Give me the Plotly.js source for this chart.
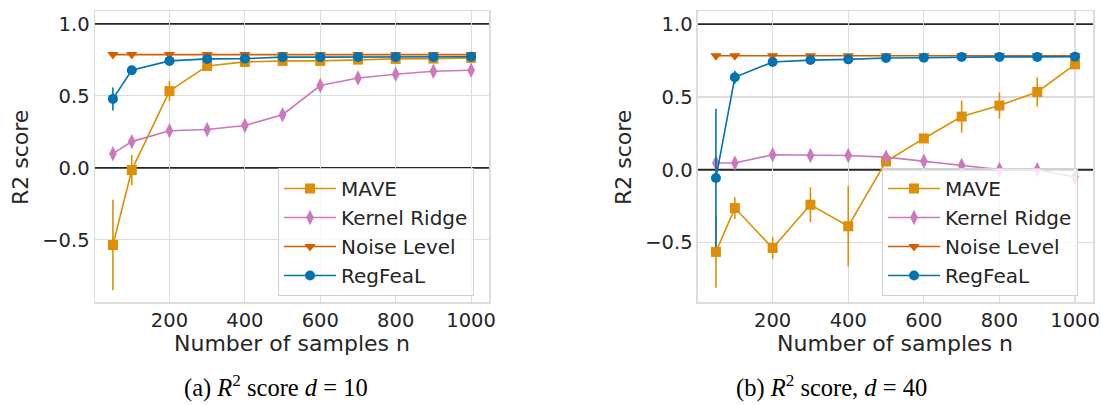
<!DOCTYPE html>
<html>
<head>
<meta charset="utf-8">
<script src="https://cdn.plot.ly/plotly-3.0.1.min.js"></script>
<style>html,body{margin:0;padding:0;background:#fff;}#chart{width:1102px;height:405px;}</style>
</head>
<body>
<div id="chart"></div>
<script>
// ---- data ----
const samples = [50, 100, 200, 300, 400, 500, 600, 700, 800, 900, 1000];
const seriesNames = ["MAVE", "Kernel Ridge", "Noise Level", "RegFeaL"];

// panel (a) d = 10
const maveA      = [-0.537, -0.016, 0.533, 0.708, 0.736, 0.743, 0.743, 0.752, 0.757, 0.759, 0.764];
const maveErrA   = [0.315, 0.105, 0.07, 0.015, 0.012, 0.01, 0.01, 0.01, 0.01, 0.01, 0.01];
const krA        = [0.098, 0.182, 0.257, 0.266, 0.294, 0.369, 0.572, 0.624, 0.650, 0.671, 0.678];
const krErrA     = [0.02, 0.02, 0.015, 0.015, 0.015, 0.015, 0.015, 0.015, 0.01, 0.01, 0.01];
const noiseA     = [0.787, 0.787, 0.787, 0.787, 0.787, 0.787, 0.787, 0.787, 0.787, 0.787, 0.787];
const noiseErrA  = [0.005, 0.005, 0.005, 0.005, 0.005, 0.005, 0.005, 0.005, 0.005, 0.005, 0.005];
const regA       = [0.479, 0.678, 0.743, 0.757, 0.759, 0.769, 0.769, 0.770, 0.771, 0.771, 0.772];
const regErrA    = [0.08, 0.015, 0.01, 0.008, 0.008, 0.006, 0.006, 0.006, 0.005, 0.005, 0.005];

// panel (b) d = 40
const maveB      = [-0.564, -0.263, -0.537, -0.240, -0.388, 0.057, 0.215, 0.365, 0.441, 0.534, 0.724];
const maveErrB   = [0.247, 0.075, 0.075, 0.12, 0.276, 0.02, 0.02, 0.11, 0.09, 0.10, 0.02];
const krB        = [0.046, 0.046, 0.103, 0.098, 0.098, 0.087, 0.059, 0.030, 0.002, 0.000, -0.050];
const krErrB     = [0.015, 0.015, 0.015, 0.015, 0.015, 0.015, 0.015, 0.015, 0.015, 0.015, 0.015];
const noiseB     = [0.783, 0.783, 0.783, 0.783, 0.783, 0.783, 0.783, 0.783, 0.783, 0.783, 0.783];
const noiseErrB  = [0.005, 0.005, 0.005, 0.005, 0.005, 0.005, 0.005, 0.005, 0.005, 0.005, 0.005];
const regB       = [-0.057, 0.635, 0.740, 0.753, 0.758, 0.767, 0.769, 0.774, 0.775, 0.775, 0.776];
const regErrB    = [0.475, 0.045, 0.01, 0.008, 0.008, 0.006, 0.006, 0.005, 0.005, 0.005, 0.005];

const xTicks = [200, 400, 600, 800, 1000];
const yTicks = [-0.5, 0.0, 0.5, 1.0];
const yGridOnly = [-0.5, 0.5];
const refLines = [0.0, 1.0];
const captions = ["(a) <i>R</i><sup>2</sup> score <i>d</i> = 10", "(b) <i>R</i><sup>2</sup> score, <i>d</i> = 40"];

// ---- styles ----
const colors  = ["#de8f05", "#cc78bc", "#d55e00", "#0173b2"];
const symbols = ["square", "diamond-tall", "triangle-down", "circle"];
const sizes   = [10, 11, 10, 10];

function makeTraces(vals, errs, xa, ya, leg) {
  return vals.map((v, i) => ({
    type: "scatter", mode: "lines+markers",
    x: samples, y: v, name: seriesNames[i],
    xaxis: xa, yaxis: ya, legend: leg,
    line: {color: colors[i], width: 1.6},
    marker: {color: colors[i], symbol: symbols[i], size: sizes[i], line: {width: 0}},
    error_y: {type: "data", array: errs[i], visible: true, color: colors[i], thickness: 1.6, width: 0}
  }));
}

const traces = [].concat(
  makeTraces([maveA, krA, noiseA, regA], [maveErrA, krErrA, noiseErrA, regErrA], "x", "y", "legend"),
  makeTraces([maveB, krB, noiseB, regB], [maveErrB, krErrB, noiseErrB, regErrB], "x2", "y2", "legend2")
);

const tickFont = {family: "DejaVu Sans", size: 19.5, color: "#262626"};
const labelFont = {family: "DejaVu Sans", size: 22, color: "#262626"};
const gridC = "#dcdcdc";

function xAxis(domain, anchor) {
  return {domain: domain, anchor: anchor, range: [2.5, 1047.5], tickvals: xTicks,
    tickfont: tickFont, showgrid: true, gridcolor: gridC, gridwidth: 1.2, zeroline: false,
    showline: true, linecolor: gridC, linewidth: 1.5, mirror: true, ticks: "", automargin: false};
}
function yAxis(range, anchor) {
  return {domain: [0, 1], anchor: anchor, range: range, tickvals: yTicks, tickformat: ".1f",
    tickfont: tickFont, showgrid: false, zeroline: false,
    minor: {tickvals: yGridOnly, showgrid: true, gridcolor: gridC, gridwidth: 1.2, ticks: ""},
    showline: true, linecolor: gridC, linewidth: 1.5, mirror: true, ticks: "", automargin: false};
}

const legendBase = {font: {family: "DejaVu Sans", size: 20, color: "#262626"},
  bgcolor: "rgba(255,255,255,0.8)", bordercolor: "#d0d0d0", borderwidth: 1,
  xanchor: "left", yanchor: "top", xref: "paper", yref: "paper", tracegroupgap: 0,
  itemwidth: 52};

const shapes = [];
[["x", "y"], ["x2", "y2"]].forEach(([xr, yr]) => {
  refLines.forEach(v => shapes.push({type: "line", xref: xr + " domain", yref: yr,
    x0: 0, x1: 1, y0: v, y1: v, line: {color: "#262626", width: 1.8}, layer: "below"}));
});

const ann = [];
function addText(text, x, y, font, angle) {
  ann.push({text: text, x: x, y: y, xref: "paper", yref: "paper", showarrow: false,
    xanchor: "center", yanchor: "middle", font: font, textangle: angle || 0});
}
addText("Number of samples n", 0.1969, -0.144, labelFont);
addText("Number of samples n", 0.802, -0.144, labelFont);
addText("R2 score", -0.0752, 0.498, labelFont, -90);
addText("R2 score", 0.529, 0.498, labelFont, -90);
const capFont = {family: "Liberation Serif", size: 24.5, color: "#000000"};
addText(captions[0], 0.1814, -0.292, capFont);
addText(captions[1], 0.7375, -0.292, capFont);

const layout = {
  width: 1102, height: 405,
  margin: {l: 95, r: 9, t: 11, b: 103},
  paper_bgcolor: "#ffffff", plot_bgcolor: "#ffffff",
  xaxis: xAxis([0, 0.3948], "y"),
  yaxis: yAxis([-0.933, 1.09], "x"),
  xaxis2: xAxis([0.6042, 1.0], "y2"),
  yaxis2: yAxis([-0.908, 1.09], "x2"),
  legend: Object.assign({}, legendBase, {x: 0.1834, y: 0.4605}),
  legend2: Object.assign({}, legendBase, {x: 0.7886, y: 0.4605}),
  shapes: shapes,
  annotations: ann,
  showlegend: true
};

Plotly.newPlot("chart", traces, layout, {staticPlot: true, displayModeBar: false});
</script>
</body>
</html>
